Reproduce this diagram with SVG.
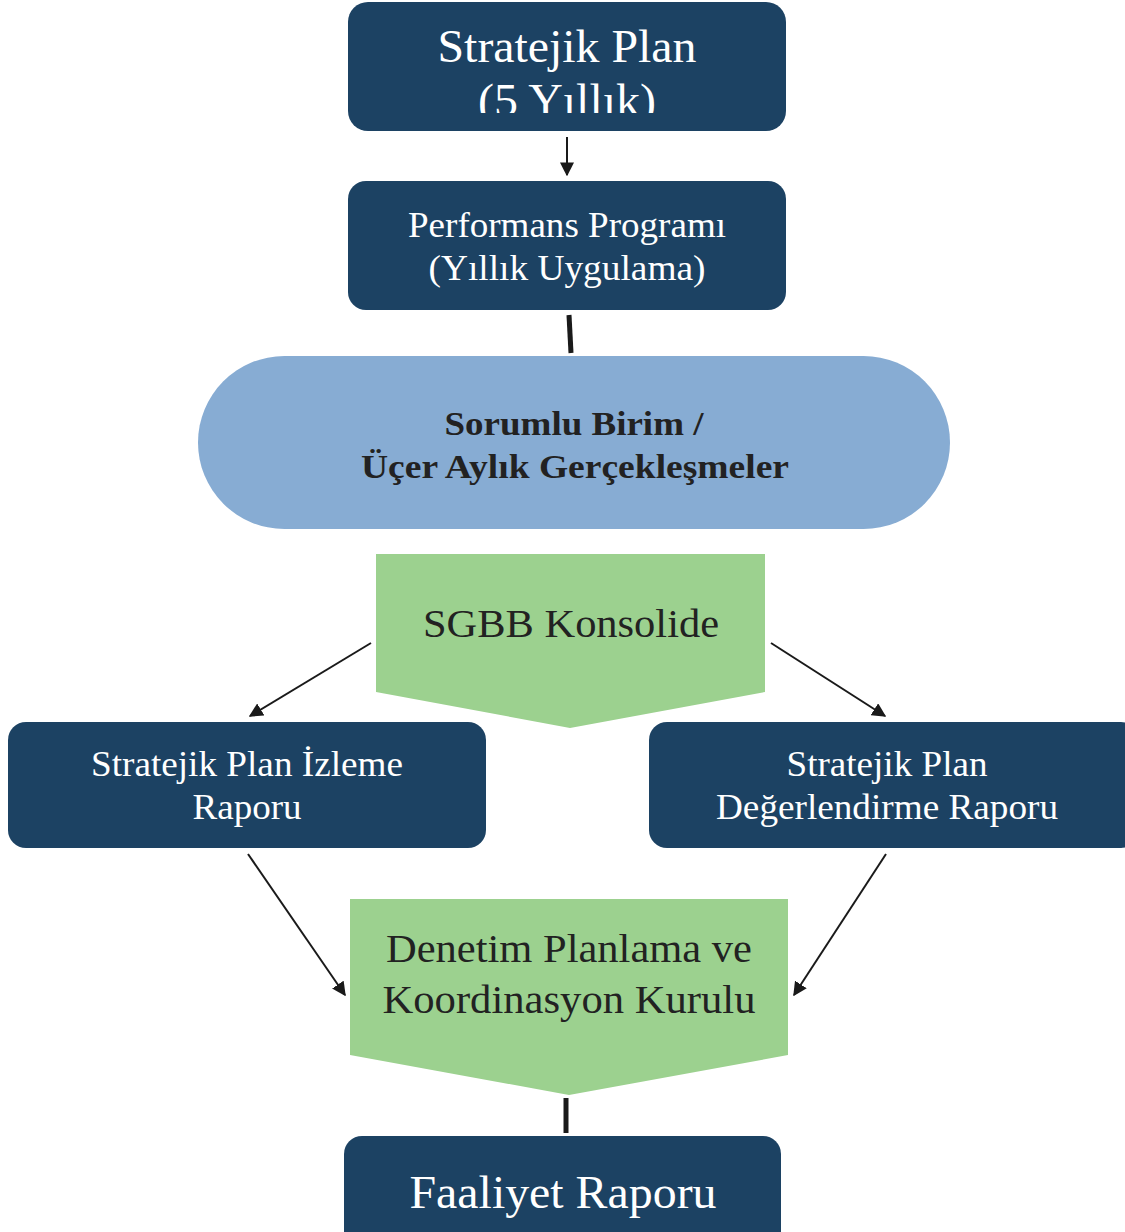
<svg xmlns="http://www.w3.org/2000/svg" width="1125" height="1232" viewBox="0 0 1125 1232">
<style>
.box{fill:#1c4263}
.wt{fill:#ffffff;font-family:"Liberation Serif",serif;text-anchor:middle}
.dt{fill:#222222;font-family:"Liberation Serif",serif;text-anchor:middle}
.grn{fill:#9cd18f}
.ln{stroke:#1a1a1a;stroke-width:2;fill:none}
.thick{stroke:#1a1a1a;stroke-width:5;fill:none}
</style>
<defs>
<marker id="ah" viewBox="0 0 10 10" refX="9" refY="5" markerWidth="7" markerHeight="7" orient="auto" markerUnits="strokeWidth">
<path d="M0,0 L10,5 L0,10 z" fill="#1a1a1a"/>
</marker>
<clipPath id="c1"><rect x="348" y="2" width="438" height="111"/></clipPath>
</defs>
<g id="connectors">
<line class="ln" x1="567" y1="137" x2="567" y2="175" marker-end="url(#ah)"/>
<line class="thick" x1="569" y1="315" x2="571" y2="353"/>
<line class="ln" x1="371" y1="643" x2="250" y2="716" marker-end="url(#ah)"/>
<line class="ln" x1="771" y1="643" x2="885" y2="716" marker-end="url(#ah)"/>
<line class="ln" x1="248" y1="854" x2="345" y2="995" marker-end="url(#ah)"/>
<line class="ln" x1="886" y1="854" x2="794" y2="995" marker-end="url(#ah)"/>
<line class="thick" x1="566" y1="1098" x2="566" y2="1133"/>
</g>
<g id="n1">
<rect class="box" x="348" y="2" width="438" height="129" rx="20"/>
<g clip-path="url(#c1)">
<text class="wt" x="567" y="62" font-size="46" textLength="259" lengthAdjust="spacingAndGlyphs">Stratejik Plan</text>
<text class="wt" x="567" y="116" font-size="46" textLength="178" lengthAdjust="spacingAndGlyphs">(5 Yıllık)</text>
</g>
</g>
<g id="n2">
<rect class="box" x="348" y="181" width="438" height="129" rx="18"/>
<text class="wt" x="567" y="237" font-size="35" textLength="318" lengthAdjust="spacingAndGlyphs">Performans Programı</text>
<text class="wt" x="567" y="280" font-size="35" textLength="277" lengthAdjust="spacingAndGlyphs">(Yıllık Uygulama)</text>
</g>
<g id="n3">
<rect x="198" y="356" width="752" height="173" rx="86.5" fill="#87acd3"/>
<text class="dt" x="574" y="435" font-size="34" font-weight="bold" textLength="259" lengthAdjust="spacingAndGlyphs">Sorumlu Birim /</text>
<text class="dt" x="575" y="478" font-size="34" font-weight="bold" textLength="428" lengthAdjust="spacingAndGlyphs">Üçer Aylık Gerçekleşmeler</text>
</g>
<g id="n4">
<polygon class="grn" points="376,554 765,554 765,692 570,728 376,692"/>
<text class="dt" x="571" y="637" font-size="40" textLength="296" lengthAdjust="spacingAndGlyphs">SGBB Konsolide</text>
</g>
<g id="n5">
<rect class="box" x="8" y="722" width="478" height="126" rx="18"/>
<text class="wt" x="247" y="776" font-size="35" textLength="312" lengthAdjust="spacingAndGlyphs">Stratejik Plan İzleme</text>
<text class="wt" x="247" y="819" font-size="35" textLength="109" lengthAdjust="spacingAndGlyphs">Raporu</text>
</g>
<g id="n6">
<rect class="box" x="649" y="722" width="490" height="126" rx="18"/>
<text class="wt" x="887" y="776" font-size="35" textLength="201" lengthAdjust="spacingAndGlyphs">Stratejik Plan</text>
<text class="wt" x="887" y="819" font-size="35" textLength="342" lengthAdjust="spacingAndGlyphs">Değerlendirme Raporu</text>
</g>
<g id="n7">
<polygon class="grn" points="350,899 788,899 788,1055 569,1095 350,1055"/>
<text class="dt" x="569" y="962" font-size="40" textLength="366" lengthAdjust="spacingAndGlyphs">Denetim Planlama ve</text>
<text class="dt" x="569" y="1013" font-size="40" textLength="373" lengthAdjust="spacingAndGlyphs">Koordinasyon Kurulu</text>
</g>
<g id="n8">
<rect class="box" x="344" y="1136" width="437" height="120" rx="18"/>
<text class="wt" x="563" y="1208" font-size="46" textLength="307" lengthAdjust="spacingAndGlyphs">Faaliyet Raporu</text>
</g>
</svg>
